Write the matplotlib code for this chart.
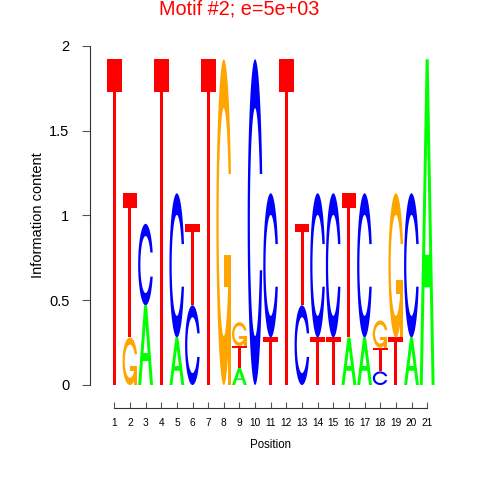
import numpy as np
import matplotlib
matplotlib.use("Agg")
import matplotlib.pyplot as plt
from matplotlib.patches import Polygon

plt.rcParams['font.family'] = ['Liberation Sans', 'DejaVu Sans']

positions = list(range(1, 22))
# information content per letter at each position
A_h = [0, 0, 0.47, 0, 0.28, 0, 0, 0, 0.10, 0, 0, 0, 0, 0, 0, 0.28, 0.28, 0, 0, 0.28, 1.92]
C_h = [0, 0, 0.48, 0, 0.85, 0.47, 0, 0, 0, 1.92, 0.85, 0, 0.47, 0.85, 0.85, 0, 0.85, 0.08, 0, 0.85, 0]
G_h = [0, 0.28, 0, 0, 0, 0, 0, 1.92, 0.14, 0, 0, 0, 0, 0, 0, 0, 0, 0.16, 0.85, 0, 0]
T_h = [1.92, 0.85, 0, 1.92, 0, 0.48, 1.92, 0, 0.13, 0, 0.28, 1.92, 0.48, 0.28, 0.28, 0.85, 0, 0.14, 0.28, 0, 0]

heights = {"A": A_h, "C": C_h, "G": G_h, "T": T_h}
colors = {"A": "#00FF00", "C": "#0000FF", "G": "#FFA500", "T": "#FF0000"}


# letter outlines in a unit box, same construction as the seqLogo polygons
def ring_shape():
    a1 = np.linspace(0.3 + np.pi / 2, np.pi, 100)
    a2 = np.linspace(np.pi, 1.5 * np.pi, 100)
    xl1, yl1 = 0.5 + 0.5 * np.sin(a1), 0.5 + 0.5 * np.cos(a1)
    xl2, yl2 = 0.5 + 0.5 * np.sin(a2), 0.5 + 0.5 * np.cos(a2)
    xl = np.concatenate([xl1, xl2])
    yl = np.concatenate([yl1, yl2])
    x = np.concatenate([xl, xl[::-1]])
    y = np.concatenate([yl, 1 - yl[::-1]])
    xi1, yi1 = 0.5 + 0.35 * np.sin(a1), 0.5 + 0.35 * np.cos(a1)
    keep = yi1 <= yl1.max()
    xi1, yi1 = xi1[keep], yi1[keep].copy()
    yi1[0] = yl1.max()
    xi2, yi2 = 0.5 + 0.35 * np.sin(a2), 0.5 + 0.35 * np.cos(a2)
    xi = np.concatenate([xi1, xi2])
    yi = np.concatenate([yi1, yi2])
    x1 = np.concatenate([xi, xi[::-1]])
    y1 = np.concatenate([yi, 1 - yi[::-1]])
    X = np.concatenate([x, x1[::-1]])
    Y = np.concatenate([y, y1[::-1]])
    return X, Y, xl1.max()


def letter_polys(base):
    # returns list of (xs, ys, is_hole)
    if base == "T":
        return [(np.array([0, 10, 10, 6, 6, 4, 4, 0]) / 10,
                 np.array([10, 10, 9, 9, 0, 0, 9, 9]) / 10, False)]
    if base == "A":
        return [(np.array([0, 4, 6, 10, 8, 6.8, 3.2, 2, 0]) / 10,
                 np.array([0, 10, 10, 0, 0, 3, 3, 0, 0]) / 10, False),
                (np.array([3.6, 5, 6.4, 3.6]) / 10,
                 np.array([4, 7.5, 4, 4]) / 10, True)]
    X, Y, r1 = ring_shape()
    polys = [(X, Y, False)]
    if base == "G":
        h1 = 0.4
        polys.append((np.array([r1, 0.5, 0.5, r1 - 0.2, r1 - 0.2, r1, r1]),
                      np.array([h1, h1, h1 - 0.1, h1 - 0.1, 0, 0, h1]), False))
    return polys


shapes = {b: letter_polys(b) for b in "ACGT"}


def draw_letter(ax, base, x, y0, h, width=0.95):
    for xs, ys, hole in shapes[base]:
        pts = np.column_stack([x - width / 2 + xs * width, y0 + ys * h])
        ax.add_patch(Polygon(pts, closed=True, edgecolor="none",
                             facecolor="white" if hole else colors[base]))


fig = plt.figure(figsize=(4.8, 4.8), dpi=100)
ax = fig.add_axes([90 / 480, 95 / 480, 360 / 480, 339.3 / 480])

for i, pos in enumerate(positions):
    stack = sorted(((heights[b][i], b) for b in "ACGT" if heights[b][i] > 0))
    y = 0.0
    for h, b in stack:
        draw_letter(ax, b, pos, y, h)
        y += h

ax.set_xlim(-0.554, 22.46)
ax.set_ylim(0, 2)

for s in ["top", "right"]:
    ax.spines[s].set_visible(False)
ax.spines["left"].set_bounds(0, 2)
ax.spines["bottom"].set_position(("outward", 16.5))
ax.spines["bottom"].set_bounds(1, 21)
for s in ["left", "bottom"]:
    ax.spines[s].set_linewidth(0.8)
    ax.spines[s].set_color("#333333")

ax.set_yticks([0, 0.5, 1, 1.5, 2])
ax.set_yticklabels(["0", "0.5", "1", "1.5", "2"])
ax.set_xticks(positions)
ax.set_xticklabels([str(p) for p in positions])
ax.tick_params(axis="y", direction="out", length=5.8, width=0.8, pad=9,
               labelsize=10.5, color="#555555")
ax.tick_params(axis="x", direction="in", length=4.3, width=0.8, pad=7,
               labelsize=7.3, color="#555555")

ax.set_ylabel("Information content", fontsize=10.5)
ax.yaxis.set_label_coords(-0.125, 0.5)
ax.set_xlabel("Position", fontsize=8.3)
ax.xaxis.set_label_coords(0.502, -0.16)

fig.text(239 / 480, 1 - 9 / 480, "Motif #2; e=5e+03", color="#FF0000",
         fontsize=14.3, ha="center", va="center")

fig.savefig("out.png", dpi=100)
